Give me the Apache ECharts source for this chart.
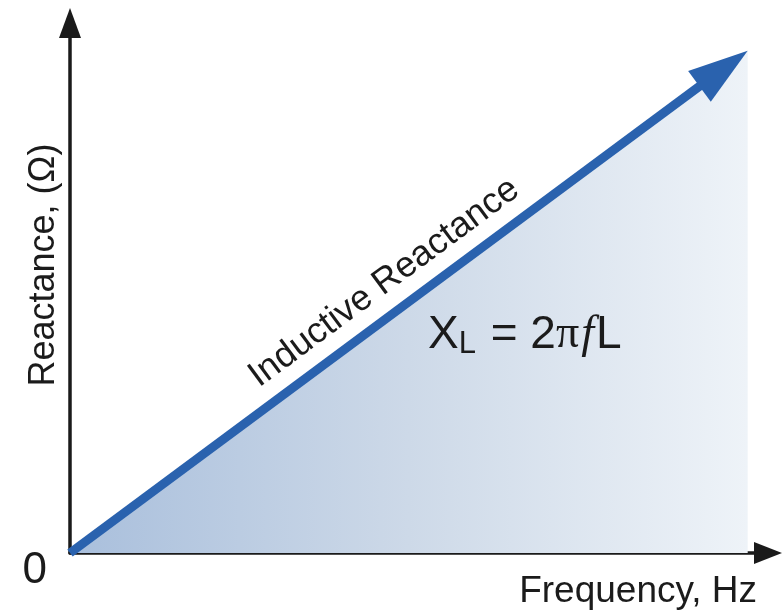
<!DOCTYPE html>
<html>
<head>
<meta charset="utf-8">
<script src="https://cdn.jsdelivr.net/npm/echarts@6/dist/echarts.min.js"></script>
<style>html,body{margin:0;padding:0;background:#fff}#c{width:784px;height:612px}</style>
</head>
<body>
<div id="c"></div>
<script>
// ---- data ----
var frequency = [0, 10];
var reactance = [0, 10];
var xAxisMax = 10.3;
var yAxisMax = 10.55;
var xAxisName = 'Frequency, Hz';
var yAxisName = 'Reactance, (Ω)';
var originLabel = '0';
var lineLabel = 'Inductive Reactance';

var pts = frequency.map(function (f, i) { return [f, reactance[i]]; });
var seg = [[frequency[0], reactance[0], frequency[frequency.length - 1], reactance[reactance.length - 1]]];

var FONT = '"Liberation Sans", Arial, sans-serif';
var TXT = '#1b1b1b';
var BLUE = '#2a62ae';

var chart = echarts.init(document.getElementById('c'), null, {renderer: 'canvas'});
chart.setOption({
  animation: false,
  backgroundColor: '#ffffff',
  grid: {left: 70, right: 16, top: 23, bottom: 59, containLabel: false, outerBoundsMode: 'none'},
  xAxis: {
    type: 'value', min: 0, max: xAxisMax, interval: xAxisMax,
    splitLine: {show: false}, axisTick: {show: false}, axisLabel: {show: false},
    axisLine: {lineStyle: {color: '#1a1a1a', width: 3.5}, symbol: ['none', 'triangle'], symbolSize: [22, 28]},
    name: xAxisName, nameLocation: 'end', nameGap: -11,
    nameTextStyle: {fontFamily: FONT, fontSize: 37, color: TXT, align: 'right', verticalAlign: 'top', padding: [20, 0, 0, 0]}
  },
  yAxis: {
    type: 'value', min: 0, max: yAxisMax, interval: yAxisMax,
    splitLine: {show: false}, axisTick: {show: false},
    axisLabel: {
      margin: 23, fontFamily: FONT, fontSize: 44, lineHeight: 36, color: TXT, verticalAlign: 'top',
      formatter: function (v) { return v === 0 ? originLabel : ''; }
    },
    axisLine: {lineStyle: {color: '#1a1a1a', width: 3.5}, symbol: ['none', 'triangle'], symbolSize: [22, 30]},
    name: yAxisName, nameLocation: 'middle', nameGap: 8, nameRotate: 90, nameMoveOverlap: false,
    nameTextStyle: {fontFamily: FONT, fontSize: 36, color: TXT, padding: [0, 0, 0, 46]}
  },
  series: [
    {
      type: 'line', data: pts, showSymbol: false, silent: true,
      lineStyle: {width: 0, opacity: 0},
      areaStyle: {
        opacity: 1,
        color: new echarts.graphic.LinearGradient(0, 0, 1, 0, [
          {offset: 0, color: '#a9bfdc'},
          {offset: 0.5, color: '#cdd9e8'},
          {offset: 1, color: '#eef3f8'}
        ])
      },
      z: 1
    },
    {
      type: 'custom', data: seg, encode: {x: [0, 2], y: [1, 3]}, silent: true, z: 3,
      renderItem: function (params, api) {
        var p0 = api.coord([api.value(0), api.value(1)]);
        var p1 = api.coord([api.value(2), api.value(3)]);
        var dx = p1[0] - p0[0], dy = p1[1] - p0[1];
        var len = Math.sqrt(dx * dx + dy * dy);
        var ux = dx / len, uy = dy / len;
        var nx = uy, ny = -ux; // normal (up-left)
        var headLen = 60, headHalf = 19;
        var bx = p1[0] - ux * headLen, by = p1[1] - uy * headLen;
        var t = 0.49, off = 30;
        var cx = p0[0] + dx * t + nx * off, cy = p0[1] + dy * t + ny * off;
        var ang = Math.atan2(-dy, dx);
        return {
          type: 'group',
          children: [
            {type: 'line', shape: {x1: p0[0], y1: p0[1], x2: bx + ux * 4, y2: by + uy * 4},
             style: {stroke: BLUE, lineWidth: 9, lineCap: 'butt'}},
            {type: 'polygon', shape: {points: [[p1[0], p1[1]], [bx + nx * headHalf, by + ny * headHalf], [bx - nx * headHalf, by - ny * headHalf]]},
             style: {fill: BLUE}},
            {type: 'text', x: cx, y: cy, rotation: ang,
             style: {text: lineLabel, fontFamily: FONT, fontSize: 36, fill: TXT, align: 'center', verticalAlign: 'middle'}}
          ]
        };
      }
    }
  ],
  graphic: [
    {
      type: 'text', left: 428, top: 312, z: 10,
      style: {
        text: '{n|X}{s|L}{n| = 2}{p|π}{i|f}{n|L}',
        fill: TXT,
        rich: {
          n: {fontFamily: FONT, fontSize: 46, lineHeight: 46, verticalAlign: 'top', fill: TXT},
          p: {fontFamily: '"Liberation Serif", serif', fontSize: 46, lineHeight: 46, verticalAlign: 'top', fill: TXT},
          i: {fontFamily: '"Liberation Serif", serif', fontStyle: 'italic', fontSize: 46, lineHeight: 46, verticalAlign: 'top', fill: TXT, padding: [0, 2, 0, 2]},
          s: {fontFamily: FONT, fontSize: 31, lineHeight: 31, verticalAlign: 'top', padding: [17, 2, 0, 0], fill: TXT}
        }
      }
    }
  ]
});
</script>
</body>
</html>
